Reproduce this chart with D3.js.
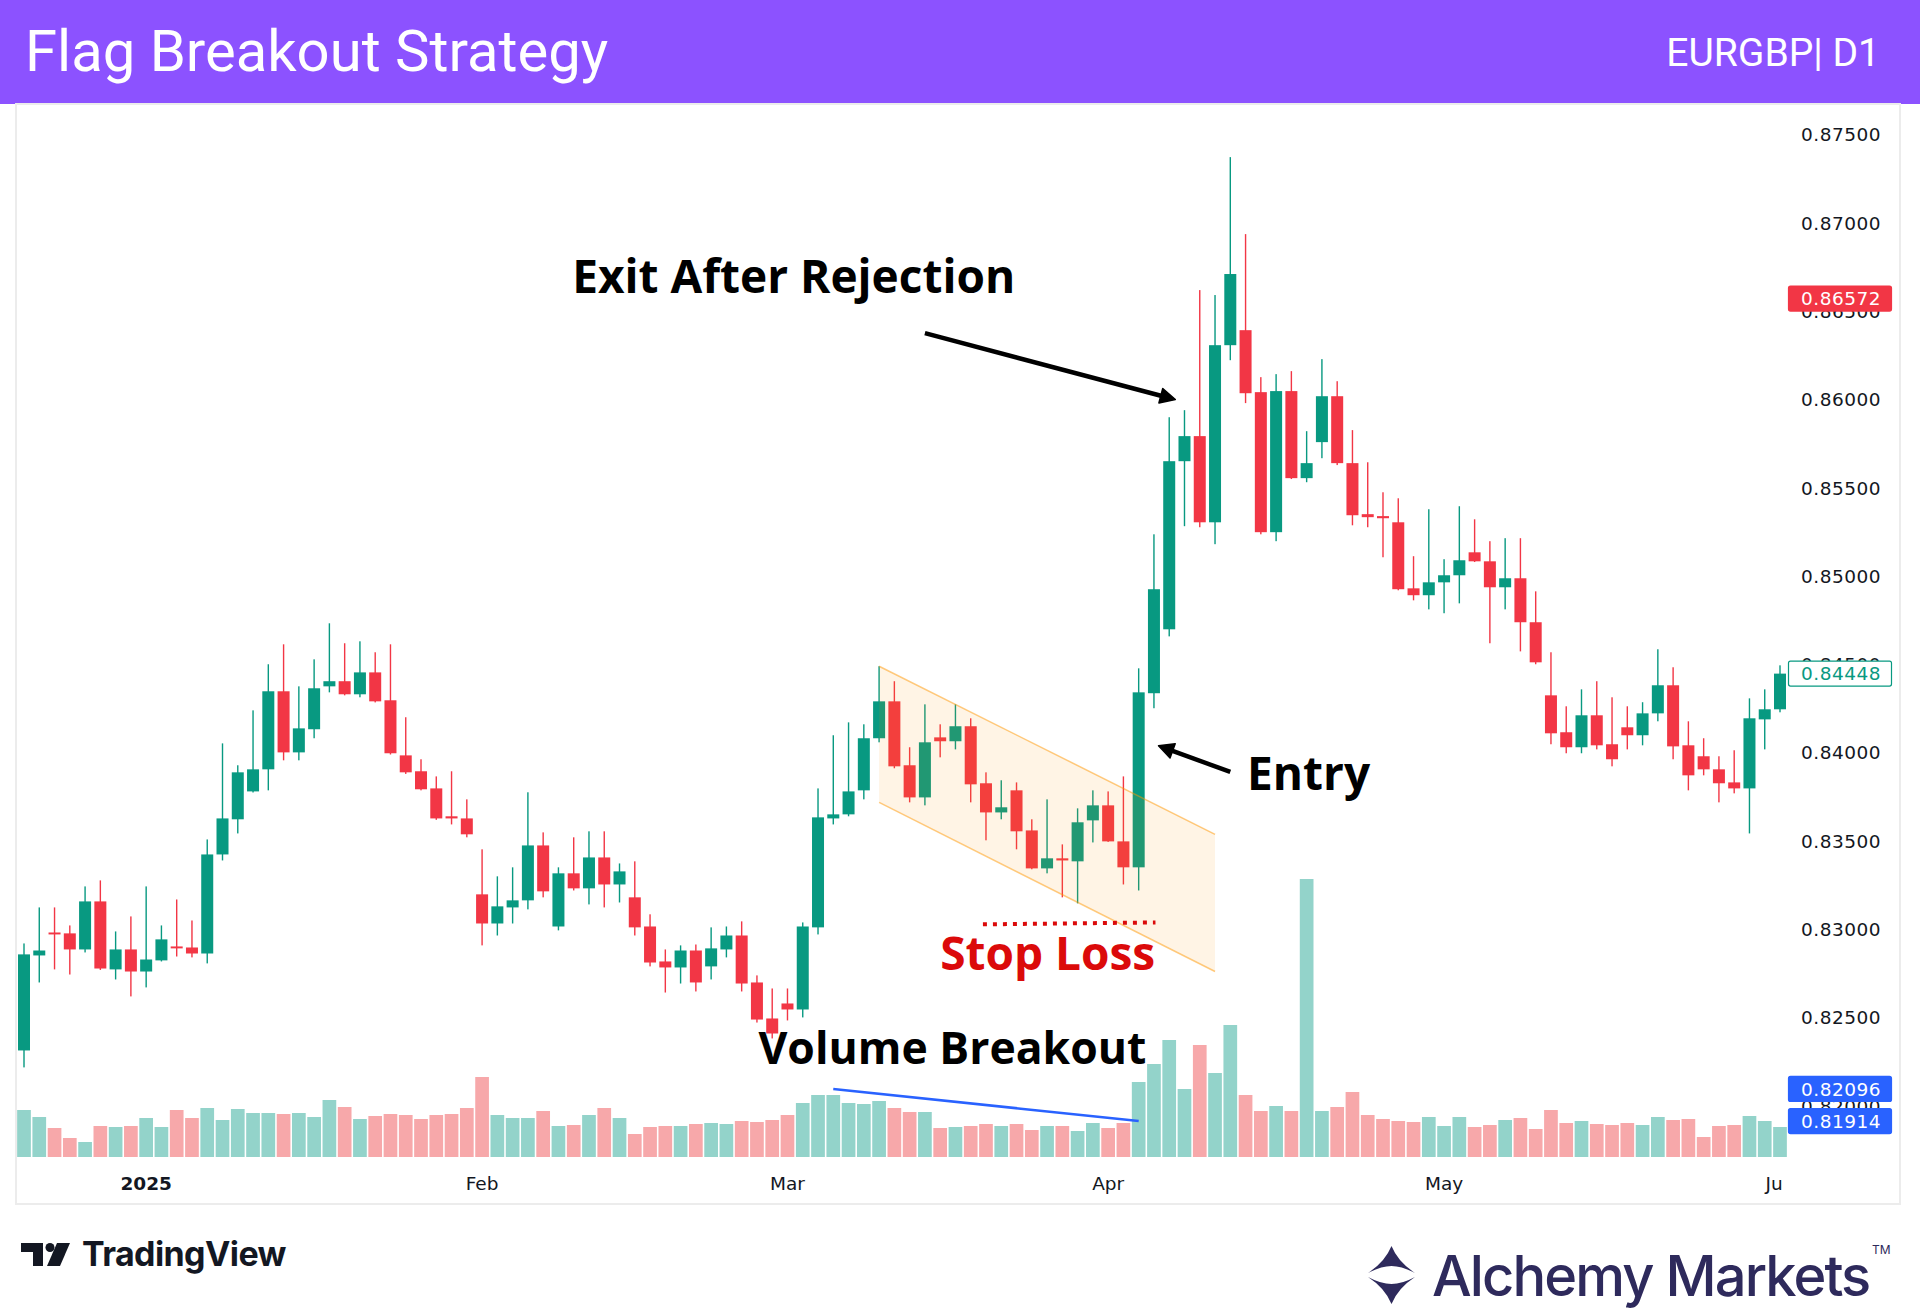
<!DOCTYPE html>
<html>
<head>
<meta charset="utf-8">
<script src="https://cdn.jsdelivr.net/npm/d3@7"></script>
<style>
  html, body { margin: 0; padding: 0; background: #fff; }
  svg { display: block; }
</style>
</head>
<body>
<div id="chart"></div>
<script>
// EURGBP daily candles, 19 Dec 2024 - 2 Jun 2025
var dates = [
  "2024-12-19","2024-12-20","2024-12-23","2024-12-24","2024-12-26","2024-12-27","2024-12-30","2024-12-31",
  "2025-01-02","2025-01-03","2025-01-06","2025-01-07","2025-01-08","2025-01-09","2025-01-10","2025-01-13","2025-01-14","2025-01-15","2025-01-16","2025-01-17","2025-01-20","2025-01-21","2025-01-22","2025-01-23","2025-01-24","2025-01-27","2025-01-28","2025-01-29","2025-01-30","2025-01-31",
  "2025-02-03","2025-02-04","2025-02-05","2025-02-06","2025-02-07","2025-02-10","2025-02-11","2025-02-12","2025-02-13","2025-02-14","2025-02-17","2025-02-18","2025-02-19","2025-02-20","2025-02-21","2025-02-24","2025-02-25","2025-02-26","2025-02-27","2025-02-28",
  "2025-03-03","2025-03-04","2025-03-05","2025-03-06","2025-03-07","2025-03-10","2025-03-11","2025-03-12","2025-03-13","2025-03-14","2025-03-17","2025-03-18","2025-03-19","2025-03-20","2025-03-21","2025-03-24","2025-03-25","2025-03-26","2025-03-27","2025-03-28","2025-03-31",
  "2025-04-01","2025-04-02","2025-04-03","2025-04-04","2025-04-07","2025-04-08","2025-04-09","2025-04-10","2025-04-11","2025-04-14","2025-04-15","2025-04-16","2025-04-17","2025-04-18","2025-04-21","2025-04-22","2025-04-23","2025-04-24","2025-04-25","2025-04-28","2025-04-29","2025-04-30",
  "2025-05-01","2025-05-02","2025-05-05","2025-05-06","2025-05-07","2025-05-08","2025-05-09","2025-05-12","2025-05-13","2025-05-14","2025-05-15","2025-05-16","2025-05-19","2025-05-20","2025-05-21","2025-05-22","2025-05-23","2025-05-26","2025-05-27","2025-05-28","2025-05-29","2025-05-30",
  "2025-06-02"
];

var open = [
  .82314,.82852,.82982,.82977,.82886,.83158,.82773,.82886,.82761,.82824,
  .82903,.82897,.82863,.83424,.83623,.83781,.83906,.84348,.84002,.84133,
  .84376,.84405,.84331,.84455,.84297,.83985,.83895,.83798,.83640,.83628,
  .83198,.83033,.83124,.83164,.83475,.83016,.83317,.83232,.83407,.83254,
  .83181,.83016,.82818,.82784,.82880,.82790,.82886,.82965,.82699,.82495,
  .82580,.82546,.83011,.83628,.83651,.83787,.84082,.84291,.83929,.83747,
  .84087,.84065,.84150,.83827,.83662,.83787,.83560,.83345,.83402,.83385,
  .83617,.83702,.83498,.83351,.84337,.84699,.85651,.85793,.85305,.86308,
  .86393,.86042,.85249,.86048,.85555,.85759,.86019,.85640,.85351,.85340,
  .85305,.84931,.84892,.84965,.85005,.85135,.85084,.84937,.84988,.84739,
  .84325,.84116,.84031,.84212,.84048,.84144,.84099,.84223,.84382,.84042,
  .83980,.83906,.83832,.83798,.84189,.84246
];
var high = [
  .82920,.83124,.83124,.83022,.83243,.83277,.82988,.83073,.83243,.83022,
  .83169,.83050,.83509,.84053,.83929,.84240,.84501,.84614,.84376,.84529,
  .84733,.84620,.84631,.84569,.84614,.84201,.83963,.83866,.83895,.83736,
  .83453,.83300,.83351,.83776,.83549,.83351,.83521,.83555,.83555,.83373,
  .83385,.83085,.82886,.82909,.82914,.83011,.83016,.83045,.82739,.82665,
  .82665,.83039,.83798,.84099,.84172,.84161,.84490,.84405,.84031,.84274,
  .84161,.84274,.84195,.83889,.83844,.83832,.83623,.83736,.83481,.83685,
  .83787,.83781,.83866,.84478,.85237,.85900,.85940,.86620,.86592,.87373,
  .86937,.86127,.86144,.86161,.85821,.86229,.86104,.85827,.85645,.85475,
  .85441,.85113,.85379,.85096,.85396,.85322,.85198,.85215,.85215,.84914,
  .84569,.84263,.84359,.84405,.84314,.84263,.84286,.84586,.84484,.84178,
  .84082,.83980,.84014,.84308,.84359,.84495
];
var low = [
  .82218,.82699,.82773,.82744,.82869,.82770,.82716,.82620,.82671,.82818,
  .82846,.82841,.82807,.83390,.83543,.83775,.83787,.83957,.83957,.84082,
  .84342,.84325,.84314,.84285,.83990,.83880,.83787,.83620,.83594,.83521,
  .82909,.82965,.83033,.83113,.83181,.82994,.83220,.83141,.83124,.83152,
  .82965,.82790,.82642,.82693,.82648,.82716,.82841,.82648,.82472,.82382,
  .82484,.82501,.82971,.83594,.83640,.83736,.84059,.83912,.83719,.83702,
  .83974,.84019,.83719,.83504,.83623,.83453,.83340,.83317,.83181,.83147,
  .83492,.83495,.83254,.83220,.84252,.84659,.85283,.85277,.85181,.86223,
  .85980,.85237,.85198,.85550,.85532,.85668,.85629,.85288,.85277,.85107,
  .84920,.84863,.84812,.84790,.84846,.85080,.84620,.84812,.84574,.84501,
  .84048,.83997,.83997,.84019,.83923,.84019,.84042,.84178,.83963,.83787,
  .83872,.83719,.83770,.83543,.84019,.84229
];
var close = [
  .82858,.82880,.82971,.82886,.83158,.82778,.82886,.82761,.82829,.82943,
  .82892,.82863,.83424,.83628,.83889,.83906,.84348,.84002,.84138,.84365,
  .84405,.84331,.84455,.84291,.83997,.83889,.83793,.83628,.83628,.83538,
  .83033,.83130,.83164,.83475,.83215,.83317,.83232,.83407,.83254,.83328,
  .83011,.82812,.82784,.82880,.82699,.82892,.82965,.82693,.82489,.82410,
  .82546,.83016,.83634,.83651,.83781,.84082,.84291,.83923,.83747,.84059,
  .84065,.84150,.83821,.83662,.83691,.83555,.83345,.83402,.83390,.83606,
  .83702,.83498,.83351,.84342,.84926,.85651,.85793,.85305,.86308,.86711,
  .86036,.85249,.86048,.85555,.85640,.86019,.85640,.85345,.85334,.85328,
  .84926,.84892,.84965,.85005,.85090,.85084,.84937,.84988,.84739,.84512,
  .84110,.84031,.84212,.84042,.83963,.84099,.84223,.84382,.84036,.83872,
  .83906,.83827,.83798,.84195,.84246,.84448
];
// tick volume, thousands
var volume = [
  47,40,29,19,15,31,30,31,39,30,
  47,39,49,37,48,44,44,43,44,40,
  57,50,38,41,43,42,38,42,43,49,
  80,42,39,39,46,31,32,42,49,39,
  23,30,31,31,33,34,33,36,35,37,
  42,54,62,62,54,53,56,49,45,45,
  29,30,31,33,31,33,27,31,31,26,
  34,29,34,75,93,117,68,112,84,132,
  62,46,51,46,278,46,50,65,42,38,
  36,35,40,31,40,30,32,37,39,28,
  47,34,36,33,32,34,32,40,37,38,
  20,31,32,41,36,30
];

var priceTicks = [0.820,0.825,0.830,0.835,0.840,0.845,0.850,0.855,0.860,0.865,0.870,0.875];

// drawings on the chart: [bar index, price]
var flagTop = [[56, .84490], [78, .83538]];
var flagBottom = [[56, .83719], [78, .82761]];
var volumeLine = [[53, .82096], [73, .81914]];
var stopLine = [[62.8, .83028], [74.1, .83039]];
var exitArrow = [[59.0, .86376], [75.4, .86000]];
var entryArrow = [[79.0, .83891], [74.3, .84040]];
var notes = [
  {text: "Exit After Rejection", at: [35.9, .86605], size: 46, color: "#000"},
  {text: "Entry", at: [80.1, .83787], size: 46, color: "#000"},
  {text: "Stop Loss", at: [60.0, .82767], size: 46, color: "#DB0A0A"},
  {text: "Volume Breakout", at: [48.1, .82240], size: 44.5, color: "#000"}
];
var priceTags = [
  {price: .86572, fill: "#F23645", stroke: "#F23645", text: "#fff"},
  {price: .84448, fill: "#fff", stroke: "#089981", text: "#089981"},
  {price: .82096, fill: "#2962FF", stroke: "#2962FF", text: "#fff"},
  {price: .81914, fill: "#2962FF", stroke: "#2962FF", text: "#fff"}
];

var W = 1920, H = 1314;
var up = "#089981", down = "#F23645";

var svg = d3.select("#chart").append("svg")
  .attr("width", W)
  .attr("height", H);

var x = d3.scaleLinear().domain([0, dates.length - 1]).range([24, 1780]);
var y = d3.scaleLinear().domain([0.825, 0.875]).range([1017.6, 134.7]);
var yv = d3.scaleLinear().domain([0, d3.max(volume)]).range([1157, 879]);

var bars = dates.map(function(d, i) {
  return {i: i, date: d3.timeParse("%Y-%m-%d")(d), o: open[i], h: high[i], l: low[i], c: close[i], v: volume[i], up: close[i] >= open[i]};
});

// header
svg.append("rect").attr("x", 0).attr("y", 0).attr("width", W).attr("height", 104).attr("fill", "#8C52FF");
svg.append("text")
  .attr("x", 25).attr("y", 71)
  .attr("font-family", "Roboto, sans-serif").attr("font-size", 58)
  .attr("fill", "#fff")
  .text("Flag Breakout Strategy");
svg.append("text")
  .attr("x", 1880).attr("y", 66)
  .attr("text-anchor", "end")
  .attr("font-family", "Roboto, sans-serif").attr("font-size", 39)
  .attr("fill", "#fff")
  .text("EURGBP| D1");

// chart frame
svg.append("rect")
  .attr("x", 16).attr("y", 104).attr("width", 1884).attr("height", 1100)
  .attr("fill", "none").attr("stroke", "#ECECEC").attr("stroke-width", 2);

// volume
svg.append("g").selectAll("rect").data(bars).enter().append("rect")
  .attr("x", function(d) { return x(d.i) - 6.85; })
  .attr("width", 13.7)
  .attr("y", function(d) { return yv(d.v); })
  .attr("height", function(d) { return yv(0) - yv(d.v); })
  .attr("fill", function(d) { return d.up ? "#93D3CA" : "#F7A8AA"; });

// candles
var candles = svg.append("g");
candles.selectAll(".wick").data(bars).enter().append("rect")
  .attr("class", "wick")
  .attr("x", function(d) { return x(d.i) - 0.7; })
  .attr("width", 1.4)
  .attr("y", function(d) { return y(d.h); })
  .attr("height", function(d) { return y(d.l) - y(d.h); })
  .attr("fill", function(d) { return d.up ? up : down; });
candles.selectAll(".body").data(bars).enter().append("rect")
  .attr("class", "body")
  .attr("x", function(d) { return x(d.i) - 6; })
  .attr("width", 12)
  .attr("y", function(d) { return y(Math.max(d.o, d.c)); })
  .attr("height", function(d) { return Math.max(1.6, Math.abs(y(d.o) - y(d.c))); })
  .attr("fill", function(d) { return d.up ? up : down; });

// flag channel
var pt = function(p) { return [x(p[0]), y(p[1])]; };
var line = d3.line().x(function(p) { return x(p[0]); }).y(function(p) { return y(p[1]); });
svg.append("path")
  .attr("d", line(flagTop.concat(flagBottom.slice().reverse())) + "Z")
  .attr("fill", "rgba(255,152,0,0.1)");
[flagTop, flagBottom].forEach(function(l) {
  svg.append("path").attr("d", line(l))
    .attr("fill", "none").attr("stroke", "rgba(255,152,0,0.5)").attr("stroke-width", 1.5);
});

// volume trend line
svg.append("path").attr("d", line(volumeLine))
  .attr("fill", "none").attr("stroke", "#2962FF").attr("stroke-width", 2.5);

// stop loss dots
svg.append("path").attr("d", line(stopLine))
  .attr("fill", "none").attr("stroke", "#DB0A0A").attr("stroke-width", 4)
  .attr("stroke-dasharray", "4 6");

// arrows
function arrow(a) {
  var p0 = pt(a[0]), p1 = pt(a[1]);
  var ang = Math.atan2(p1[1] - p0[1], p1[0] - p0[0]);
  var len = 15, half = 7.5;
  var bx = p1[0] - len * Math.cos(ang), by = p1[1] - len * Math.sin(ang);
  svg.append("line")
    .attr("x1", p0[0]).attr("y1", p0[1]).attr("x2", bx + 3 * Math.cos(ang)).attr("y2", by + 3 * Math.sin(ang))
    .attr("stroke", "#000").attr("stroke-width", 4.5);
  svg.append("polygon")
    .attr("points", [
      p1,
      [bx + half * Math.sin(ang), by - half * Math.cos(ang)],
      [bx - half * Math.sin(ang), by + half * Math.cos(ang)]
    ].map(function(p) { return p.join(","); }).join(" "))
    .attr("fill", "#000").attr("stroke", "#000").attr("stroke-width", 1.5).attr("stroke-linejoin", "round");
}
arrow(exitArrow);
arrow(entryArrow);

// notes
svg.append("g").selectAll("text").data(notes).enter().append("text")
  .attr("x", function(d) { return x(d.at[0]); })
  .attr("y", function(d) { return y(d.at[1]); })
  .attr("font-family", "'Open Sans', 'Noto Sans', sans-serif")
  .attr("font-weight", 700)
  .attr("font-size", function(d) { return d.size; })
  .attr("fill", function(d) { return d.color; })
  .text(function(d) { return d.text; });

// price scale
var fmt = d3.format(".5f");
svg.append("g").selectAll("text").data(priceTicks).enter().append("text")
  .attr("x", 1801)
  .attr("y", function(d) { return y(d); })
  .attr("dy", "0.36em")
  .attr("font-family", "'DejaVu Sans', sans-serif").attr("font-size", 18.5)
  .attr("letter-spacing", 0.5)
  .attr("fill", "#131722")
  .text(fmt);

var tags = svg.append("g").selectAll("g").data(priceTags).enter().append("g");
tags.append("rect")
  .attr("x", 1788.5).attr("width", 103).attr("height", 25).attr("rx", 2)
  .attr("y", function(d) { return y(d.price) - 12.5; })
  .attr("fill", function(d) { return d.fill; })
  .attr("stroke", function(d) { return d.stroke; }).attr("stroke-width", 1.2);
tags.append("text")
  .attr("x", 1801)
  .attr("y", function(d) { return y(d.price); })
  .attr("dy", "0.36em")
  .attr("font-family", "'DejaVu Sans', sans-serif").attr("font-size", 18.5)
  .attr("letter-spacing", 0.5)
  .attr("fill", function(d) { return d.text; })
  .text(function(d) { return fmt(d.price); });

// time scale: first bar of every month
var monthFmt = d3.timeFormat("%b");
var monthStarts = bars.filter(function(d, i) {
  return i > 0 && d.date.getMonth() !== bars[i - 1].date.getMonth();
});
svg.append("clipPath").attr("id", "timeclip")
  .append("rect").attr("x", 16).attr("y", 1160).attr("width", 1766).attr("height", 40);
svg.append("g").attr("clip-path", "url(#timeclip)")
  .selectAll("text").data(monthStarts).enter().append("text")
  .attr("x", function(d) { return x(d.i); })
  .attr("y", 1183)
  .attr("dy", "0.36em")
  .attr("text-anchor", "middle")
  .attr("font-family", "'DejaVu Sans', sans-serif").attr("font-size", 18.5)
  .attr("font-weight", function(d) { return d.date.getMonth() === 0 ? 700 : 400; })
  .attr("fill", "#131722")
  .text(function(d) { return d.date.getMonth() === 0 ? d.date.getFullYear() : monthFmt(d.date); });

// TradingView mark
var tv = svg.append("g").attr("fill", "#131722");
tv.append("path").attr("d", "M21,1243 H43 V1266 H33 V1252 H21 Z");
tv.append("circle").attr("cx", 50).attr("cy", 1247.5).attr("r", 4.5);
tv.append("path").attr("d", "M57,1243 H70 L60,1266 H47 Z");
tv.append("text")
  .attr("x", 82).attr("y", 1266)
  .attr("font-family", "Inter, sans-serif").attr("font-weight", 700).attr("font-size", 34)
  .attr("letter-spacing", -0.6)
  .text("TradingView");

// Alchemy Markets mark
var am = svg.append("g").attr("fill", "#2E2A5C");
am.append("path").attr("d", "M1391.5,1246 Q1398,1262 1415,1273 Q1402,1266 1391.5,1266 Q1381,1266 1368,1273 Q1385,1262 1391.5,1246 Z");
am.append("path").attr("d", "M1391.5,1304 Q1398,1288 1415,1277 Q1402,1284 1391.5,1284 Q1381,1284 1368,1277 Q1385,1288 1391.5,1304 Z");
am.append("text")
  .attr("x", 1432).attr("y", 1296)
  .attr("font-family", "Inter, sans-serif").attr("font-weight", 500).attr("font-size", 56)
  .attr("letter-spacing", -1.9)
  .text("Alchemy Markets");
am.append("text")
  .attr("x", 1872).attr("y", 1254)
  .attr("font-family", "Inter, sans-serif").attr("font-size", 12)
  .text("TM");
</script>
</body>
</html>
